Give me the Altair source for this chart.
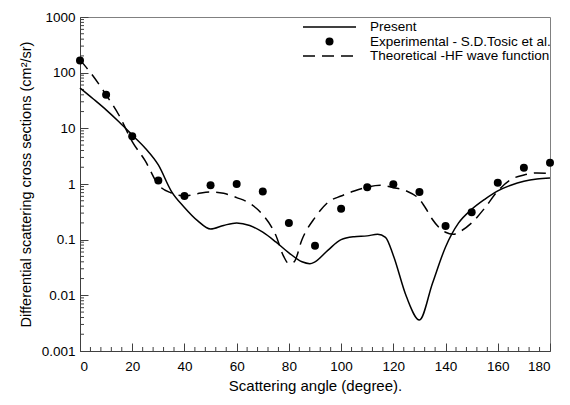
import altair as alt
import pandas as pd

# ---- data ----
exp_angle = [0, 10, 20, 30, 40, 50, 60, 70, 80, 90, 100, 110, 120, 130, 140, 150, 160, 170, 180]
exp_dcs = [165, 40, 7.2, 1.15, 0.61, 0.95, 1.0, 0.73, 0.2, 0.078, 0.36, 0.87, 0.99, 0.72, 0.176, 0.31, 1.05, 1.95, 2.4]

present_angle = [0, 5, 10, 15, 20, 25, 30, 35, 40, 45, 50, 55, 60, 65, 70, 75, 80, 85, 88, 90,
                 95, 100, 105, 110, 114, 117, 120, 125, 130, 135, 140, 145, 150, 155, 160, 165,
                 170, 175, 180]
present_dcs = [53, 34, 21.5, 13, 7.6, 4.4, 2.2, 0.74, 0.38, 0.22, 0.155, 0.18, 0.2, 0.18, 0.136,
               0.091, 0.058, 0.04, 0.037, 0.04, 0.065, 0.1, 0.113, 0.117, 0.125, 0.11, 0.052,
               0.0095, 0.0036, 0.0165, 0.074, 0.2, 0.35, 0.53, 0.75, 0.95, 1.12, 1.23, 1.28]

theory_angle = [0, 5, 10, 15, 20, 25, 30, 35, 40, 45, 50, 55, 60, 65, 70, 75, 78, 80, 82, 85,
                90, 95, 100, 105, 110, 115, 120, 125, 130, 133, 135, 140, 143, 145, 150, 155,
                160, 165, 170, 175, 180]
theory_dcs = [170, 87, 40, 17, 5.8, 2.6, 0.97, 0.69, 0.61, 0.67, 0.72, 0.68, 0.57, 0.45, 0.28,
              0.12, 0.05, 0.037, 0.04, 0.1, 0.25, 0.47, 0.61, 0.75, 0.88, 0.95, 0.86, 0.75, 0.53,
              0.33, 0.23, 0.136, 0.125, 0.136, 0.2, 0.37, 0.75, 1.2, 1.45, 1.58, 1.55]

x_major = [0, 20, 40, 60, 80, 100, 120, 140, 160, 180]
x_minor = [a for a in range(0, 181, 4) if a % 20 != 0]
y_major = [0.001, 0.01, 0.1, 1, 10, 100, 1000]
y_minor = [m * d for d in [0.001, 0.01, 0.1, 1, 10, 100] for m in range(2, 10)]

legend_labels = ["Present", "Experimental - S.D.Tosic et al.", "Theoretical -HF wave function"]

W, H = 470, 334
FONT = "Liberation Sans"
AX = "#404040"

xs = alt.Scale(domain=[0, 180], nice=False, zero=False)
ys = alt.Scale(type="log", domain=[0.001, 1000], nice=False)

x_axis = alt.Axis(values=x_major, title="Scattering angle (degree).", grid=False,
                  tickSize={"expr": "-8"}, labelPadding=16, titlePadding=6, titleFontSize=15)
y_axis = alt.Axis(values=y_major, format="~g", title="Differential scattering cross sections (cm²/sr)",
                  grid=False, tickSize={"expr": "-8"}, labelPadding=13, titlePadding=8, titleFontSize=14.5)

df_exp = pd.DataFrame({"angle": exp_angle, "dcs": exp_dcs})
df_pres = pd.DataFrame({"angle": present_angle, "dcs": present_dcs})
df_th = pd.DataFrame({"angle": theory_angle, "dcs": theory_dcs})

present = alt.Chart(df_pres).mark_line(color="black", strokeWidth=1.5, interpolate="monotone").encode(
    x=alt.X("angle:Q", scale=xs, axis=x_axis),
    y=alt.Y("dcs:Q", scale=ys, axis=y_axis),
)
theory = alt.Chart(df_th).mark_line(color="black", strokeWidth=1.5, strokeDash=[12, 7],
                                    interpolate="monotone").encode(
    x=alt.X("angle:Q", scale=xs), y=alt.Y("dcs:Q", scale=ys))
points = alt.Chart(df_exp).mark_point(filled=True, color="black", size=64, opacity=1).encode(
    x=alt.X("angle:Q", scale=xs), y=alt.Y("dcs:Q", scale=ys))

xminor = alt.Chart(pd.DataFrame({"v": x_minor})).mark_rule(color=AX, strokeWidth=1).encode(
    x=alt.X("v:Q", scale=xs), y=alt.value(H), y2=alt.value(H - 4))
yminor = alt.Chart(pd.DataFrame({"v": y_minor})).mark_rule(color=AX, strokeWidth=1).encode(
    y=alt.Y("v:Q", scale=ys), x=alt.value(0), x2=alt.value(4))

# legend (manual)
rows = [10, 24.5, 39]
lx0, lx1, ltx = 223, 276, 290
leg_line1 = alt.Chart(pd.DataFrame({"a": [0]})).mark_rule(color="black", strokeWidth=1.5).encode(
    x=alt.value(lx0), x2=alt.value(lx1), y=alt.value(rows[0]))
leg_dot = alt.Chart(pd.DataFrame({"a": [0]})).mark_point(filled=True, color="black", size=64, opacity=1).encode(
    x=alt.value((lx0 + lx1) / 2), y=alt.value(rows[1]))
leg_line3 = alt.Chart(pd.DataFrame({"a": [0]})).mark_rule(color="black", strokeWidth=1.5,
                                                          strokeDash=[12, 7]).encode(
    x=alt.value(lx0), x2=alt.value(lx1), y=alt.value(rows[2]))
leg_texts = [
    alt.Chart(pd.DataFrame({"t": [lab]})).mark_text(align="left", baseline="middle", font=FONT,
                                                     fontSize=13.5, color="black").encode(
        text="t:N", x=alt.value(ltx), y=alt.value(r))
    for lab, r in zip(legend_labels, rows)
]

chart = alt.layer(xminor, yminor, present, theory, points, leg_line1, leg_dot, leg_line3, *leg_texts).properties(
    width=W, height=H,
    autosize=alt.AutoSizeParams(type="none"),
    padding={"left": 72, "top": 9, "right": 12, "bottom": 46},
).configure_view(stroke="#808080", strokeWidth=1).configure_axis(
    domainColor=AX, tickColor=AX, labelColor="black", titleColor="black",
    labelFont=FONT, titleFont=FONT, labelFontSize=13.5,
    titleFontWeight="normal", domainWidth=1, tickWidth=1,
)

chart.save("out.html", embed_options={"renderer": "svg", "actions": False})
